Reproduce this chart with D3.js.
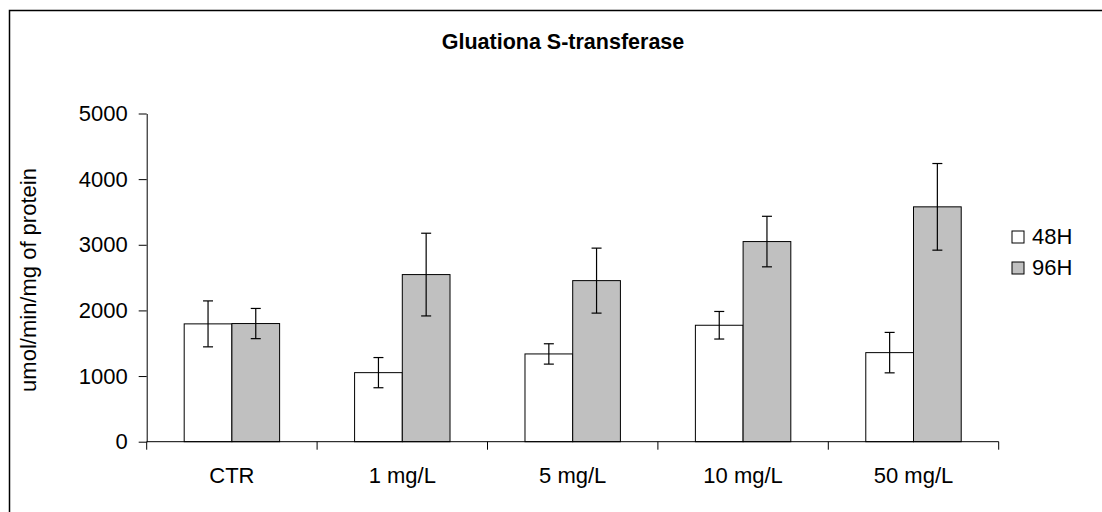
<!DOCTYPE html>
<html>
<head>
<meta charset="utf-8">
<script src="https://cdn.jsdelivr.net/npm/d3@7"></script>
<style>
  body { margin: 0; background: #fff; }
  text { font-family: Arial, "Liberation Sans", sans-serif; fill: #000; }
</style>
</head>
<body>
<script>
const categories = ["CTR", "1 mg/L", "5 mg/L", "10 mg/L", "50 mg/L"];
const seriesNames = ["48H", "96H"];
const values48 = [1795, 1052, 1337, 1774, 1357];
const values96 = [1800, 2546, 2454, 3049, 3578];
const err48 = [350, 230, 155, 210, 308];
const err96 = [230, 630, 495, 385, 660];
const yTicks = [0, 1000, 2000, 3000, 4000, 5000];

const w = 1102;
const h = 512;
const colors = ["#ffffff", "#c0c0c0"];
const fontSize = "22px";

const svg = d3.select("body")
  .append("svg")
  .attr("width", w)
  .attr("height", h);

// chart frame (runs past right and bottom edge)
svg.append("rect")
  .attr("x", 9.5)
  .attr("y", 10.5)
  .attr("width", 1200)
  .attr("height", 600)
  .attr("fill", "none")
  .attr("stroke", "#000")
  .attr("stroke-width", 1.5);

const plotLeft = 146.7, plotRight = 998.7, plotTop = 113.5, plotBottom = 441.7;

const xScale = d3.scaleBand()
  .domain(categories)
  .range([plotLeft, plotRight])
  .paddingInner(0.44)
  .paddingOuter(0.22);

const xSub = d3.scaleBand()
  .domain(seriesNames)
  .range([0, xScale.bandwidth()]);

const yScale = d3.scaleLinear()
  .domain([0, 5000])
  .range([plotBottom, plotTop]);

const rows = [];
categories.forEach((c, i) => {
  rows.push({cat: c, s: "48H", v: values48[i], e: err48[i], k: 0});
  rows.push({cat: c, s: "96H", v: values96[i], e: err96[i], k: 1});
});

svg.selectAll("rect.bar")
  .data(rows)
  .enter()
  .append("rect")
  .attr("class", "bar")
  .attr("x", d => xScale(d.cat) + xSub(d.s))
  .attr("y", d => yScale(d.v))
  .attr("width", xSub.bandwidth())
  .attr("height", d => yScale(0) - yScale(d.v))
  .attr("fill", d => colors[d.k])
  .attr("stroke", "#000")
  .attr("stroke-width", 1);

// error bars
const eb = svg.selectAll("g.err")
  .data(rows)
  .enter()
  .append("g")
  .attr("class", "err")
  .attr("transform", d => "translate(" + (xScale(d.cat) + xSub(d.s) + xSub.bandwidth() / 2) + ",0)");

eb.append("line")
  .attr("x1", 0).attr("x2", 0)
  .attr("y1", d => yScale(d.v + d.e))
  .attr("y2", d => yScale(d.v - d.e))
  .attr("stroke", "#000").attr("stroke-width", 1.2);
eb.append("line")
  .attr("x1", -5).attr("x2", 5)
  .attr("y1", d => yScale(d.v + d.e))
  .attr("y2", d => yScale(d.v + d.e))
  .attr("stroke", "#000").attr("stroke-width", 1.2);
eb.append("line")
  .attr("x1", -5).attr("x2", 5)
  .attr("y1", d => yScale(d.v - d.e))
  .attr("y2", d => yScale(d.v - d.e))
  .attr("stroke", "#000").attr("stroke-width", 1.2);

// y axis
const yAxis = d3.axisLeft(yScale)
  .tickValues(yTicks)
  .tickFormat(d3.format("d"))
  .tickSize(8)
  .tickPadding(11)
  .tickSizeOuter(0);

svg.append("g")
  .attr("transform", "translate(" + plotLeft + ",0)")
  .call(yAxis)
  .call(g => g.attr("font-family", null).attr("font-size", null))
  .call(g => g.selectAll("text").style("font-size", fontSize))
  .call(g => g.selectAll("line, path").attr("stroke", "#000"));

// x axis with ticks at band boundaries
const xAxisG = svg.append("g")
  .attr("transform", "translate(0," + plotBottom + ")");

xAxisG.append("line")
  .attr("x1", plotLeft).attr("x2", plotRight)
  .attr("stroke", "#000");

const step = xScale.step();
const edges = categories.map(c => xScale(c) - step * xScale.paddingInner() / 2);
edges[0] = plotLeft;
edges.push(plotRight);

xAxisG.selectAll("line.tick")
  .data(edges)
  .enter()
  .append("line")
  .attr("class", "tick")
  .attr("x1", d => d).attr("x2", d => d)
  .attr("y1", 0).attr("y2", 8)
  .attr("stroke", "#000");

xAxisG.selectAll("text")
  .data(categories)
  .enter()
  .append("text")
  .attr("x", d => xScale(d) + xScale.bandwidth() / 2)
  .attr("y", 41)
  .attr("text-anchor", "middle")
  .style("font-size", fontSize)
  .text(d => d);

// title
svg.append("text")
  .attr("x", 563)
  .attr("y", 49)
  .attr("text-anchor", "middle")
  .style("font-size", "21.5px")
  .style("font-weight", "bold")
  .text("Gluationa S-transferase");

// y label
svg.append("text")
  .attr("transform", "translate(36,280) rotate(-90)")
  .attr("text-anchor", "middle")
  .style("font-size", fontSize)
  .text("umol/min/mg of protein");

// legend
const legend = svg.selectAll("g.legend")
  .data(seriesNames)
  .enter()
  .append("g")
  .attr("class", "legend")
  .attr("transform", (d, i) => "translate(1012," + (231 + i * 31) + ")");

legend.append("rect")
  .attr("width", 12)
  .attr("height", 12)
  .attr("fill", (d, i) => colors[i])
  .attr("stroke", "#000");

legend.append("text")
  .attr("x", 20)
  .attr("y", 12.5)
  .style("font-size", fontSize)
  .text(d => d);
</script>
</body>
</html>
